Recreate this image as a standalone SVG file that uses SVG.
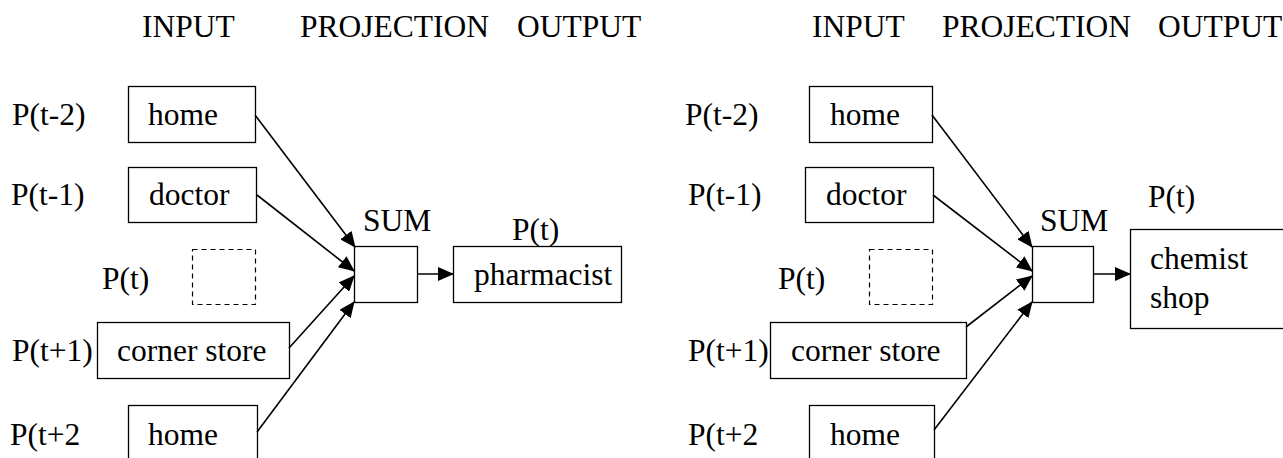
<svg xmlns="http://www.w3.org/2000/svg" width="1283" height="458" viewBox="0 0 1283 458">
<style>
text{font-family:"Liberation Serif","Tinos","Nimbus Roman","Nimbus Roman No9 L","Noto Serif","DejaVu Serif","FreeSerif","Times New Roman",Times,serif;font-size:31.5px;fill:#000}
.box{fill:#fff;stroke:#000;stroke-width:1.3}
.dash{fill:none;stroke:#000;stroke-width:1.2;stroke-dasharray:5,4}
.con{stroke:#000;stroke-width:1.6;fill:none;marker-end:url(#ah)}
</style>
<defs>
<marker id="ah" markerUnits="userSpaceOnUse" markerWidth="16" markerHeight="14" refX="15" refY="7" orient="auto">
<path d="M0,0 L16,7 L0,14 z" fill="#000"/>
</marker>
</defs>
<g id="headers-left">
<text x="142" y="37">INPUT</text>
<text x="300" y="37">PROJECTION</text>
<text x="517" y="37">OUTPUT</text>
</g>
<g id="headers-right">
<text x="812" y="37">INPUT</text>
<text x="942" y="37">PROJECTION</text>
<text x="1158" y="37">OUTPUT</text>
</g>
<g id="labels-left">
<text x="12" y="125">P(t-2)</text>
<text x="11" y="205">P(t-1)</text>
<text x="102" y="289">P(t)</text>
<text x="12" y="361">P(t+1)</text>
<text x="10" y="445">P(t+2</text>
</g>
<g id="labels-right">
<text x="685" y="125">P(t-2)</text>
<text x="688" y="205">P(t-1)</text>
<text x="778" y="289">P(t)</text>
<text x="688" y="361">P(t+1)</text>
<text x="688" y="445">P(t+2</text>
</g>
<g id="L-home1"><rect class="box" x="128.5" y="86.5" width="127" height="56"/><text x="148" y="125">home</text></g>
<g id="L-doctor"><rect class="box" x="128.5" y="167.5" width="128" height="55"/><text x="149" y="205">doctor</text></g>
<g id="L-blank"><rect class="dash" x="192.5" y="249.5" width="63" height="55"/></g>
<g id="L-corner"><rect class="box" x="97.5" y="322.5" width="192" height="56"/><text x="117" y="361">corner store</text></g>
<g id="L-home2"><rect class="box" x="128.5" y="405.5" width="129" height="70"/><text x="148" y="445">home</text></g>
<g id="L-sum"><rect class="box" x="354.5" y="246.5" width="63" height="56"/><text x="363" y="231">SUM</text></g>
<g id="L-out"><rect class="box" x="453.5" y="246.5" width="168" height="56"/><text x="512" y="240">P(t)</text><text x="474" y="285">pharmacist</text></g>
<g id="R-home1"><rect class="box" x="809.5" y="86.5" width="123" height="56"/><text x="830" y="125">home</text></g>
<g id="R-doctor"><rect class="box" x="805.5" y="167.5" width="128" height="55"/><text x="826" y="205">doctor</text></g>
<g id="R-blank"><rect class="dash" x="869.5" y="249.5" width="63" height="55"/></g>
<g id="R-corner"><rect class="box" x="770.5" y="322.5" width="196" height="56"/><text x="791" y="361">corner store</text></g>
<g id="R-home2"><rect class="box" x="809.5" y="405.5" width="125" height="70"/><text x="830" y="445">home</text></g>
<g id="R-sum"><rect class="box" x="1032.5" y="246.5" width="61" height="56"/><text x="1040" y="231">SUM</text></g>
<g id="R-out"><rect class="box" x="1130.5" y="229.5" width="170" height="99"/><text x="1148" y="207">P(t)</text><text x="1150" y="269">chemist</text><text x="1150" y="308">shop</text></g>
<g id="connectors">
<line class="con" x1="255" y1="115" x2="355" y2="247"/>
<line class="con" x1="257" y1="195" x2="354" y2="271"/>
<line class="con" x1="289" y1="348" x2="354" y2="276"/>
<line class="con" x1="257" y1="432" x2="354" y2="302"/>
<line class="con" x1="417" y1="274" x2="453" y2="274"/>
<line class="con" x1="932" y1="115" x2="1032" y2="247"/>
<line class="con" x1="933" y1="195" x2="1032" y2="271"/>
<line class="con" x1="966" y1="327" x2="1032" y2="276"/>
<line class="con" x1="934" y1="430" x2="1032" y2="302"/>
<line class="con" x1="1093" y1="274" x2="1130" y2="274"/>
</g>
</svg>
